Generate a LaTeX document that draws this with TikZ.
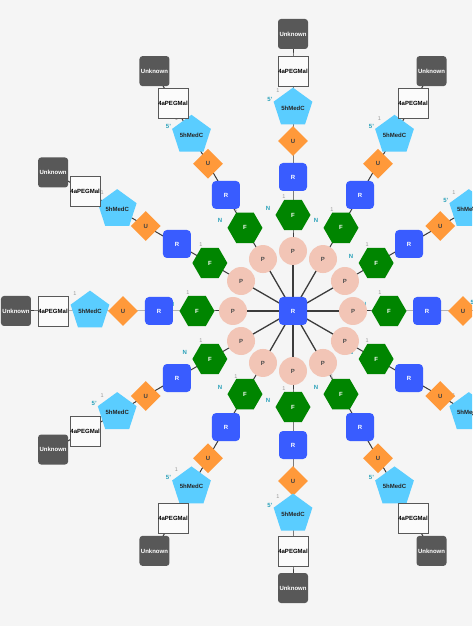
\documentclass[tikz,border=0pt]{standalone}
\usepackage{fontspec}
\setmainfont{Liberation Sans}
\usetikzlibrary{shapes.geometric}

\definecolor{bgcol}{RGB}{245,245,245}
\definecolor{ribblue}{RGB}{57,92,255}
\definecolor{fucgreen}{RGB}{0,133,0}
\definecolor{phospink}{RGB}{242,197,182}
\definecolor{uraorange}{RGB}{255,153,58}
\definecolor{medcblue}{RGB}{90,205,255}
\definecolor{unkgray}{RGB}{88,88,88}
\definecolor{linkgray}{RGB}{60,60,60}
\definecolor{labteal}{RGB}{40,160,185}

\pgfdeclarelayer{back}
\pgfsetlayers{back,main}

\tikzset{
  res/.style={inner sep=0pt,font=\fontsize{6}{6}\selectfont\bfseries},
  ribose/.style={res,rectangle,rounded corners=4pt,minimum size=28pt,fill=ribblue,text=white},
  fucose/.style={res,regular polygon,regular polygon sides=6,minimum size=35pt,fill=fucgreen,text=white},
  phos/.style={res,circle,minimum size=28pt,fill=phospink,text=black!70},
  uracil/.style={res,diamond,minimum width=30pt,minimum height=30pt,fill=uraorange,text=black!75},
  medc/.style={res,regular polygon,regular polygon sides=5,minimum size=35pt,fill=medcblue,text=black!85},
  peg/.style={res,rectangle,minimum size=30pt,fill=white!97!gray,draw=unkgray,line width=0.9pt,text=black},
  unknown/.style={res,rectangle,rounded corners=3pt,minimum size=30pt,fill=unkgray,text=white},
  link/.style={draw=linkgray,line width=1pt},
  posone/.style={font=\fontsize{5.5}{5.5}\selectfont,text=black!40},
  posn/.style={font=\fontsize{6}{6}\selectfont\bfseries,text=labteal}
}

\begin{document}
\begin{tikzpicture}[x=1pt,y=1pt]

\useasboundingbox (-293,-315) rectangle (179,311);
\clip (-293,-315) rectangle (179,311);
\begin{pgfonlayer}{back}
\fill[bgcol] (-293,-315) rectangle (179,311);
\end{pgfonlayer}

\node[ribose] (core) at (0,0) {R};

\foreach \a in {0,30,...,330}{
  \node[phos]    (p\a)   at (\a:60pt)  {P};
  \node[fucose]  (f\a)   at (\a:96pt)  {F};
  \node[ribose]  (r\a)   at (\a:134pt) {R};
  \node[uracil]  (u\a)   at (\a:170pt) {U};
  \node[medc]    (m\a)   at (\a:203pt) {5hMedC};
  \node[peg]     (g\a)   at (\a:240pt) {4aPEGMal};
  \node[unknown] (k\a)   at (\a:277pt) {Unknown};
}

\begin{pgfonlayer}{back}
\foreach \a in {0,30,...,330}{
  \draw[link,line width=1.3pt] (core.center) -- (p\a.center);
  \draw[link] (p\a.center) -- (f\a.center) -- (r\a.center) -- (u\a.center)
              -- (m\a.center) -- (g\a.center) -- (k\a.center);
  \node[posone] at ([shift={(-9,18)}]f\a.center) {1};
  \node[posn]   at ([shift={(-25,7)}]f\a.center) {N};
  \node[posone] at ([shift={(-15,17)}]m\a.center) {1};
  \node[posn]   at ([shift={(-23,9)}]m\a.center) {5'};
}
\end{pgfonlayer}

\end{tikzpicture}
\end{document}
